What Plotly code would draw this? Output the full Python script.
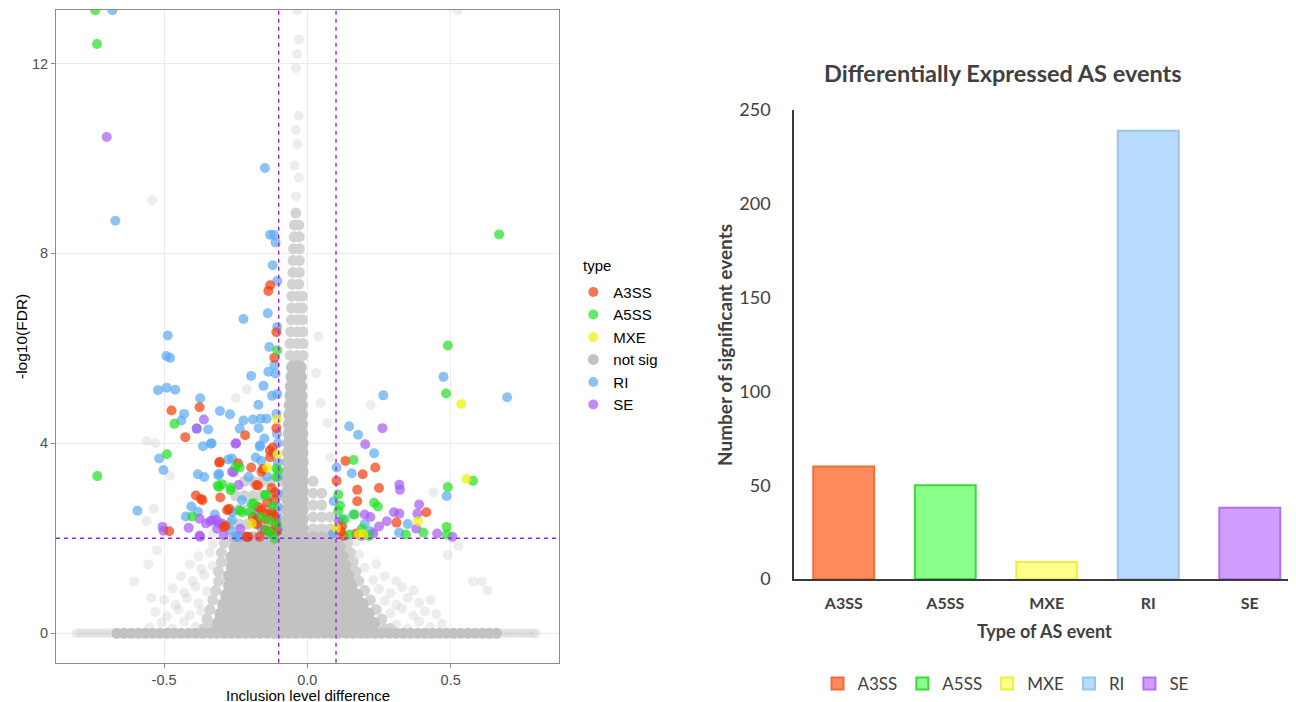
import plotly.graph_objects as go

# ---------------- thresholds ----------------
dpsi_cut = 0.1
fdr_cut = 2.0

# ---------------- volcano plot: significant events (x = inclusion level difference, y = -log10 FDR) ----------------
a3ss_pts = [(-0.130, 7.33), (-0.136, 7.21), (-0.108, 6.34), (-0.115, 5.80), (-0.108, 4.32), (-0.121, 3.91),
            (-0.130, 3.71), (-0.155, 3.46), (-0.172, 3.11), (-0.125, 3.06), (-0.112, 2.97), (-0.474, 4.69),
            (-0.376, 4.76), (-0.426, 4.13), (-0.217, 4.17), (-0.305, 3.61), (-0.242, 3.58), (-0.196, 3.49),
            (-0.389, 2.90), (-0.371, 2.83), (-0.304, 2.86), (-0.274, 2.62), (-0.482, 2.15), (-0.286, 2.26),
            (-0.205, 2.03), (-0.167, 2.03), (-0.190, 2.45), (-0.160, 2.60), (-0.140, 2.75), (-0.120, 2.50),
            (-0.110, 2.30), (-0.130, 2.15), (-0.115, 2.80), (-0.175, 2.30), (-0.125, 2.55), (-0.105, 2.15),
            (-0.145, 2.40), (-0.131, 3.85), (-0.308, 3.59), (-0.160, 3.40), (-0.178, 3.12), (-0.366, 2.80),
            (-0.280, 2.59), (-0.171, 2.66), (-0.148, 2.52), (-0.114, 2.45), (-0.178, 2.38), (-0.291, 2.24),
            (-0.212, 2.03), (-0.148, 2.17), (0.102, 3.21), (0.121, 2.26), (0.127, 2.05), (0.133, 3.63),
            (0.193, 3.35), (0.237, 3.49), (0.174, 3.02), (0.250, 3.06), (0.174, 2.78), (0.311, 2.33),
            (0.415, 2.55), (0.118, 2.15), (0.170, 2.10)]

a5ss_pts = [(-0.740, 13.12), (-0.734, 12.41), (-0.733, 3.31), (-0.105, 5.96), (-0.102, 3.44), (-0.145, 2.92),
            (-0.490, 3.77), (-0.464, 4.41), (-0.236, 3.49), (-0.313, 3.11), (-0.298, 3.14), (-0.267, 3.07),
            (-0.402, 2.46), (-0.186, 2.74), (-0.236, 2.59), (-0.108, 3.47), (-0.251, 3.50), (-0.308, 3.08),
            (-0.268, 3.01), (-0.148, 2.91), (-0.194, 2.73), (-0.120, 2.69), (-0.228, 2.55), (-0.200, 2.55),
            (-0.160, 2.45), (-0.131, 2.38), (-0.108, 3.29), (-0.143, 2.17), (-0.114, 1.99), (-0.105, 2.30),
            (-0.125, 2.10), (0.108, 2.92), (0.114, 2.69), (0.108, 2.58), (0.161, 3.65), (0.233, 2.75),
            (0.246, 2.67), (0.344, 2.08), (0.405, 2.12), (0.486, 2.24), (0.486, 2.08), (0.490, 3.08),
            (0.484, 5.05), (0.490, 6.06), (0.669, 8.40), (0.578, 3.21), (0.147, 2.08), (0.165, 2.50),
            (0.190, 2.20), (0.215, 2.05), (0.130, 2.40)]

mxe_pts = [(-0.105, 4.51), (-0.104, 3.77), (-0.140, 3.48), (-0.194, 2.31), (0.100, 2.22), (0.386, 2.36),
           (0.537, 4.83), (0.555, 3.25), (0.180, 2.08), (0.195, 2.08)]

ri_pts = [(-0.680, 13.12), (-0.670, 8.69), (-0.148, 9.80), (-0.130, 8.39), (-0.117, 8.39), (-0.111, 8.23),
          (-0.121, 7.75), (-0.105, 7.42), (-0.138, 6.74), (-0.105, 6.45), (-0.223, 6.62), (-0.133, 6.03),
          (-0.115, 5.65), (-0.136, 5.51), (-0.111, 5.47), (-0.196, 5.42), (-0.153, 5.21), (-0.123, 5.00),
          (-0.105, 5.04), (-0.171, 4.81), (-0.108, 4.62), (-0.142, 4.52), (-0.163, 4.52), (-0.170, 4.32),
          (-0.166, 3.93), (-0.161, 3.63), (-0.102, 3.30), (-0.236, 4.31), (-0.223, 4.48), (-0.487, 6.27),
          (-0.492, 5.84), (-0.479, 5.80), (-0.521, 5.12), (-0.491, 5.17), (-0.461, 5.13), (-0.374, 4.95),
          (-0.430, 4.62), (-0.305, 4.68), (-0.270, 4.61), (-0.440, 4.48), (-0.386, 4.31), (-0.346, 4.29),
          (-0.364, 3.94), (-0.334, 4.00), (-0.517, 3.68), (-0.502, 3.44), (-0.382, 3.35), (-0.276, 3.66),
          (-0.311, 3.33), (-0.593, 2.58), (-0.405, 2.67), (-0.382, 2.56), (-0.424, 2.46), (-0.323, 2.50),
          (-0.261, 2.55), (-0.248, 2.03), (-0.211, 2.03), (-0.337, 3.99), (-0.165, 3.96), (-0.205, 3.29),
          (-0.263, 3.68), (-0.308, 3.36), (-0.360, 3.29), (-0.228, 2.80), (-0.103, 2.94), (-0.263, 2.38),
          (-0.268, 2.17), (-0.240, 2.03), (-0.103, 2.66), (-0.103, 2.20), (-0.103, 3.60), (-0.103, 4.00),
          (-0.106, 4.20), (-0.120, 3.80), (-0.140, 3.30), (-0.180, 3.70), (-0.190, 4.50), (-0.150, 4.10),
          (-0.130, 2.10), (-0.160, 2.20), (-0.180, 2.50), (-0.105, 2.45), (0.102, 3.49), (0.092, 2.78),
          (0.146, 4.36), (0.177, 4.18), (0.233, 3.79), (0.155, 3.37), (0.265, 5.01), (0.486, 2.89),
          (0.475, 5.40), (0.697, 4.97), (0.120, 2.40), (0.160, 2.50), (0.200, 2.30), (0.220, 2.15),
          (0.320, 2.12), (0.090, 2.10), (0.350, 2.30)]

se_pts = [(-0.700, 10.45), (-0.361, 4.50), (-0.386, 4.31), (-0.248, 4.00), (-0.257, 3.39), (-0.376, 2.41),
          (-0.505, 2.24), (-0.502, 2.16), (-0.414, 2.22), (-0.376, 2.06), (-0.339, 2.36), (-0.317, 2.39),
          (-0.298, 2.31), (-0.292, 2.07), (-0.251, 3.99), (-0.263, 3.40), (-0.240, 3.12), (-0.331, 2.38),
          (-0.308, 2.31), (-0.354, 2.31), (-0.234, 2.20), (-0.374, 2.03), (-0.315, 2.20), (0.202, 3.98),
          (0.262, 4.32), (0.321, 3.13), (0.323, 3.02), (0.302, 2.55), (0.321, 2.52), (0.277, 2.36),
          (0.390, 2.71), (0.384, 2.52), (0.453, 2.10), (0.506, 2.03), (0.190, 2.05), (0.200, 2.50),
          (0.220, 2.45), (0.250, 2.25), (0.230, 2.10), (0.110, 2.35), (0.380, 2.20)]

# ---------------- volcano plot: not significant events ----------------
# events with -log10(FDR) = 0
notsig_zero_x = [-0.665, -0.64, -0.615, -0.59, -0.565, -0.54, -0.515, -0.49, -0.465, -0.44, -0.415, -0.39,
                 -0.365, -0.34, -0.315, -0.29, -0.265, -0.24, -0.215, -0.19, -0.165, -0.14, -0.115, -0.09,
                 -0.065, -0.04, -0.015, 0.01, 0.035, 0.06, 0.085, 0.11, 0.135, 0.16, 0.185, 0.21, 0.235,
                 0.26, 0.285, 0.31, 0.335, 0.36, 0.385, 0.41, 0.435, 0.46, 0.485, 0.51, 0.535, 0.56, 0.585,
                 0.61, 0.635, 0.66]
notsig_zero_faint_x = [-0.805, -0.79, -0.775, -0.76, -0.745, -0.73, -0.715, -0.70, -0.685, 0.68, 0.695,
                       0.71, 0.725, 0.74, 0.755, 0.77, 0.785, 0.797]

# dense core of the cloud: (y, [x ...])
notsig_core_rows = [
    (0.2, [-0.31, -0.28, -0.25, -0.22, -0.19, -0.16, -0.13, -0.10, -0.07, -0.04, -0.01, 0.02, 0.05, 0.08, 0.11, 0.14, 0.17, 0.20, 0.23]),
    (0.4, [-0.30, -0.27, -0.24, -0.21, -0.18, -0.15, -0.12, -0.09, -0.06, -0.03, 0.00, 0.03, 0.06, 0.09, 0.12, 0.15, 0.18, 0.21]),
    (0.6, [-0.29, -0.26, -0.23, -0.20, -0.17, -0.14, -0.11, -0.08, -0.05, -0.02, 0.01, 0.04, 0.07, 0.10, 0.13, 0.16, 0.19]),
    (0.8, [-0.28, -0.25, -0.22, -0.19, -0.16, -0.13, -0.10, -0.07, -0.04, -0.01, 0.02, 0.05, 0.08, 0.11, 0.14, 0.17]),
    (1.0, [-0.27, -0.24, -0.21, -0.18, -0.15, -0.12, -0.09, -0.06, -0.03, 0.00, 0.03, 0.06, 0.09, 0.12, 0.15]),
    (1.2, [-0.27, -0.24, -0.21, -0.18, -0.15, -0.12, -0.09, -0.06, -0.03, 0.00, 0.03, 0.06, 0.09, 0.12, 0.14]),
    (1.4, [-0.26, -0.23, -0.20, -0.17, -0.14, -0.11, -0.08, -0.05, -0.02, 0.01, 0.04, 0.07, 0.10, 0.13]),
    (1.6, [-0.26, -0.23, -0.20, -0.17, -0.14, -0.11, -0.08, -0.05, -0.02, 0.01, 0.04, 0.07, 0.10, 0.12]),
    (1.8, [-0.25, -0.22, -0.19, -0.16, -0.13, -0.10, -0.07, -0.04, -0.01, 0.02, 0.05, 0.08, 0.11]),
    (2.0, [-0.25, -0.22, -0.19, -0.16, -0.13, -0.10, -0.07, -0.04, -0.01, 0.02, 0.05, 0.08, 0.10]),
    (2.2, [-0.065, -0.04, -0.02]), (2.4, [-0.065, -0.04, -0.02]), (2.6, [-0.065, -0.04, -0.02]),
    (2.8, [-0.065, -0.04, -0.02]), (3.0, [-0.065, -0.04, -0.02]), (3.2, [-0.065, -0.04, -0.02]),
    (3.4, [-0.065, -0.04, -0.02]), (3.6, [-0.065, -0.04, -0.02]), (3.8, [-0.064, -0.04, -0.02]),
    (4.0, [-0.063, -0.04, -0.02]), (4.2, [-0.062, -0.04, -0.021]), (4.4, [-0.061, -0.04, -0.022]),
    (4.6, [-0.06, -0.04, -0.022]), (4.8, [-0.058, -0.04, -0.023]), (5.0, [-0.056, -0.04, -0.024]),
    (5.2, [-0.054, -0.039, -0.025]), (5.4, [-0.052, -0.038, -0.026]), (5.6, [-0.05, -0.037, -0.027]),
]

# medium density parts: (y, [x ...])
notsig_mid_rows = [
    (5.85, [-0.06, -0.035, -0.015]), (6.1, [-0.06, -0.035, -0.015]), (6.35, [-0.058, -0.035, -0.016]),
    (6.6, [-0.056, -0.034, -0.017]), (6.85, [-0.055, -0.033, -0.018]), (7.1, [-0.054, -0.032, -0.018]),
    (7.35, [-0.052, -0.03]), (7.6, [-0.05, -0.028]), (7.85, [-0.05, -0.028]), (8.1, [-0.048, -0.028]),
    (8.35, [-0.046, -0.028]), (8.6, [-0.045, -0.03]), (8.85, [-0.04]),
    (2.2, [0.02, 0.05, 0.08]), (2.45, [0.02, 0.05, 0.08]), (2.7, [0.02, 0.05]), (2.95, [0.02, 0.05]), (3.2, [0.02]),
    (2.3, [-0.27, -0.24, -0.21, -0.18, -0.15, -0.12, -0.09]), (2.6, [-0.27, -0.24, -0.21, -0.18, -0.15, -0.12, -0.09]),
    (2.9, [-0.25, -0.22, -0.19, -0.16, -0.13, -0.09]), (3.2, [-0.22, -0.19, -0.16, -0.13, -0.09]),
    (0.1, [-0.36, -0.34, 0.27, 0.29]), (0.3, [-0.35, 0.26]), (0.5, [-0.34, 0.24]), (0.7, [-0.33, 0.22]),
    (0.9, [-0.32, 0.20]), (1.1, [-0.31, 0.18]), (1.3, [-0.31, 0.17]), (1.5, [-0.30, 0.16]),
    (1.7, [-0.30, 0.15]), (1.9, [-0.29, 0.14]),
]

# faint outer part of the cloud and isolated events: (x, y)
notsig_faint_pts = [(-0.55, 0.12), (-0.51, 0.22), (-0.47, 0.10), (-0.43, 0.25), (-0.39, 0.14), (0.31, 0.18),
                    (0.35, 0.10), (0.39, 0.24), (0.43, 0.13), (0.47, 0.20), (-0.53, 0.45), (-0.49, 0.36),
                    (-0.45, 0.50), (-0.41, 0.38), (-0.37, 0.47), (0.29, 0.42), (0.33, 0.52), (0.37, 0.37),
                    (0.41, 0.46), (0.45, 0.40), (-0.50, 0.70), (-0.46, 0.60), (-0.42, 0.74), (-0.38, 0.63),
                    (0.27, 0.68), (0.31, 0.60), (0.35, 0.75), (0.39, 0.64), (0.43, 0.70), (-0.47, 0.95),
                    (-0.43, 0.86), (-0.39, 0.98), (-0.35, 0.88), (0.25, 0.93), (0.29, 0.85), (0.33, 0.97),
                    (0.37, 0.90), (-0.44, 1.20), (-0.40, 1.10), (-0.36, 1.22), (0.23, 1.12), (0.27, 1.20),
                    (0.31, 1.10), (-0.41, 1.45), (-0.37, 1.35), (-0.33, 1.42), (0.20, 1.38), (0.24, 1.46),
                    (-0.38, 1.62), (-0.34, 1.70), (0.18, 1.66), (-0.33, 1.88), (0.17, 1.93),
                    (-0.605, 1.09), (-0.545, 0.75), (-0.555, 1.45), (-0.524, 1.75), (-0.561, 2.36),
                    (-0.536, 2.62), (-0.480, 3.32), (-0.561, 4.05), (-0.530, 4.00), (-0.541, 9.12),
                    (0.039, 6.25), (0.031, 5.48), (0.046, 4.85), (0.071, 4.43), (0.221, 4.81), (0.440, 2.97),
                    (0.578, 1.09), (0.609, 1.09), (0.628, 0.90), (0.490, 1.65), (0.527, 1.84), (0.227, 2.12),
                    (0.525, 13.12), (-0.211, 5.14), (-0.250, 4.95), (-0.040, 9.20), (-0.030, 9.60),
                    (-0.045, 9.85), (-0.035, 10.3), (-0.040, 10.6), (-0.030, 10.9), (-0.040, 11.9),
                    (-0.035, 12.2), (-0.030, 12.5), (-0.035, 13.12), (0.08, 3.7), (0.12, 1.6), (-0.33, 2.1)]

# ---------------- bar chart ----------------
bar_types = ["A3SS", "A5SS", "MXE", "RI", "SE"]
bar_counts = [60, 50, 9, 239, 38]
bar_fill = ["#FF8A5B", "#8AFF8A", "#FFFF8A", "#B8DCFF", "#D09EFF"]
bar_edge = ["#F26A38", "#3ED63E", "#EEEE3A", "#9CC3E8", "#B470F2"]

# ---------------- colours ----------------
pt_colors = {"A3SS": "#F23C0A", "A5SS": "#22E022", "MXE": "#F0F000", "not sig": "#BEBEBE",
             "RI": "#5AAAF2", "SE": "#A55AF5"}
legend_rank = {"A3SS": 1, "A5SS": 2, "MXE": 3, "not sig": 4, "RI": 5, "SE": 6}

# page offset of the figure inside the browser page (default body margin)
OFF = 8
W, H = 1296, 702


def px(x):
    return (x - OFF) / W


def py(y):
    return 1 - (y - OFF) / H


def rows_xy(rows):
    xs, ys = [], []
    for yv, row in rows:
        xs.extend(row)
        ys.extend([yv] * len(row))
    return xs, ys


fig = go.Figure()

# grey cloud (drawn first)
fx = [p[0] for p in notsig_faint_pts] + notsig_zero_faint_x
fy = [p[1] for p in notsig_faint_pts] + [0.0] * len(notsig_zero_faint_x)
fig.add_trace(go.Scatter(x=fx, y=fy, mode="markers", showlegend=False, hoverinfo="skip",
                         marker=dict(color=pt_colors["not sig"], size=10, opacity=0.28, line=dict(width=0)),
                         xaxis="x", yaxis="y"))
mx, my = rows_xy(notsig_mid_rows)
fig.add_trace(go.Scatter(x=mx, y=my, mode="markers", showlegend=False, hoverinfo="skip",
                         marker=dict(color="#D3D3D3", size=11, opacity=1.0, line=dict(width=0)),
                         xaxis="x", yaxis="y"))
cx, cy = rows_xy(notsig_core_rows)
fig.add_trace(go.Scatter(x=cx, y=cy, mode="markers", showlegend=False, hoverinfo="skip",
                         marker=dict(color="#C2C2C2", size=14, opacity=1.0, line=dict(width=0)),
                         xaxis="x", yaxis="y"))
fig.add_trace(go.Scatter(x=notsig_zero_x, y=[0.0] * len(notsig_zero_x), mode="markers", name="not sig",
                         legendgroup="notsig", legendrank=legend_rank["not sig"],
                         marker=dict(color="#C2C2C2", size=11, opacity=1.0, line=dict(width=0)),
                         xaxis="x", yaxis="y"))

for name, pts in [("RI", ri_pts), ("SE", se_pts), ("A3SS", a3ss_pts), ("A5SS", a5ss_pts), ("MXE", mxe_pts)]:
    fig.add_trace(go.Scatter(x=[p[0] for p in pts], y=[p[1] for p in pts], mode="markers", name=name,
                             legendgroup=name, legendrank=legend_rank[name],
                             marker=dict(color=pt_colors[name], size=10, opacity=0.7, line=dict(width=0)),
                             xaxis="x", yaxis="y"))

# bars
for t, c, f, e in zip(bar_types, bar_counts, bar_fill, bar_edge):
    fig.add_trace(go.Bar(x=[t], y=[c], name=t, width=0.6, legend="legend2",
                         marker=dict(color=f, line=dict(color=e, width=2)),
                         xaxis="x2", yaxis="y2"))

grid = "#EBEBEB"
frame = "#8C8C8C"
left_font = "Liberation Sans, Arial, sans-serif"
right_font = "Lato, Open Sans, sans-serif"

fig.update_layout(
    width=W, height=H,
    margin=dict(l=0, r=0, t=0, b=0, autoexpand=False),
    paper_bgcolor="white", plot_bgcolor="white",
    showlegend=True,
    xaxis=dict(domain=[px(56), px(559)], range=[-0.877, 0.878], tickvals=[-0.5, 0, 0.5],
               ticktext=["-0.5", "0.0", "0.5"], showgrid=True, gridcolor=grid, gridwidth=1,
               zeroline=False, showline=True, mirror=True, linecolor=frame, linewidth=1,
               ticks="outside", ticklen=4, tickcolor=frame, automargin=False,
               tickfont=dict(family=left_font, size=14.5, color="#4D4D4D")),
    yaxis=dict(domain=[py(662.7), py(9.8)], range=[-0.62, 13.13], tickvals=[0, 4, 8, 12],
               showgrid=True, gridcolor=grid, gridwidth=1, zeroline=False,
               showline=True, mirror=True, linecolor=frame, linewidth=1, automargin=False,
               ticks="outside", ticklen=4, tickcolor=frame,
               tickfont=dict(family=left_font, size=14.5, color="#4D4D4D")),
    xaxis2=dict(domain=[px(794), px(1298)], range=[-0.49, 4.475], type="category",
                categoryorder="array", categoryarray=bar_types, showgrid=False, zeroline=False,
                showline=True, linecolor="#3A3A3A", linewidth=2, ticks="", ticklabelstandoff=9,
                automargin=False,
                tickfont=dict(family=right_font, size=16, color="#404040", weight="bold"),
                anchor="y2"),
    yaxis2=dict(domain=[py(579), py(110)], range=[0, 250], tickvals=[0, 50, 100, 150, 200, 250],
                showgrid=False, zeroline=False, showline=True, linecolor="#3A3A3A", linewidth=1.5,
                ticks="", ticklabelstandoff=18, anchor="x2", automargin=False,
                tickfont=dict(family=right_font, size=18, color="#404040")),
    legend=dict(font=dict(family=left_font, size=15, color="black"),
                x=px(573.3), y=py(275.7), xanchor="left", yanchor="top",
                bgcolor="rgba(0,0,0,0)", tracegroupgap=4, traceorder="normal"),
    legend2=dict(orientation="h", font=dict(family=right_font, size=17, color="#404040"),
                 x=px(1006), y=py(684), xanchor="center", yanchor="middle",
                 bgcolor="rgba(0,0,0,0)", itemwidth=30),
)

# threshold lines
for xv in (-dpsi_cut, dpsi_cut):
    fig.add_shape(type="line", xref="x", yref="y domain", x0=xv, x1=xv, y0=0, y1=1,
                  line=dict(color="#A020F0", width=1.4, dash="4px,4px"))
fig.add_shape(type="line", xref="x domain", yref="y", x0=0, x1=1, y0=fdr_cut, y1=fdr_cut,
              line=dict(color="#A020F0", width=1.4, dash="4px,4px"))

fig.add_annotation(text="type", xref="paper", yref="paper", x=px(581), y=py(265),
                   showarrow=False, xanchor="left", yanchor="middle",
                   font=dict(family=left_font, size=15, color="black"))
fig.add_annotation(text="Inclusion level difference", xref="paper", yref="paper", x=px(307.5),
                   y=py(695), showarrow=False, xanchor="center", yanchor="middle",
                   font=dict(family=left_font, size=15, color="black"))
fig.add_annotation(text="-log10(FDR)", xref="paper", yref="paper", x=px(21), y=py(337),
                   showarrow=False, textangle=-90, xanchor="center", yanchor="middle",
                   font=dict(family=left_font, size=15.5, color="black"))
fig.add_annotation(text="<b>Differentially Expressed AS events</b>", xref="paper", yref="paper",
                   x=px(1003), y=py(73), showarrow=False, xanchor="center", yanchor="middle",
                   font=dict(family=right_font, size=23.5, color="#404040"))
fig.add_annotation(text="<b>Number of significant events</b>", xref="paper", yref="paper",
                   x=px(724), y=py(345), showarrow=False, textangle=-90,
                   xanchor="center", yanchor="middle", font=dict(family=right_font, size=19, color="#404040"))
fig.add_annotation(text="<b>Type of AS event</b>", xref="paper", yref="paper",
                   x=px(1044), y=py(631), showarrow=False, xanchor="center", yanchor="middle",
                   font=dict(family=right_font, size=18, color="#404040"))

fig.write_html("out.html")
